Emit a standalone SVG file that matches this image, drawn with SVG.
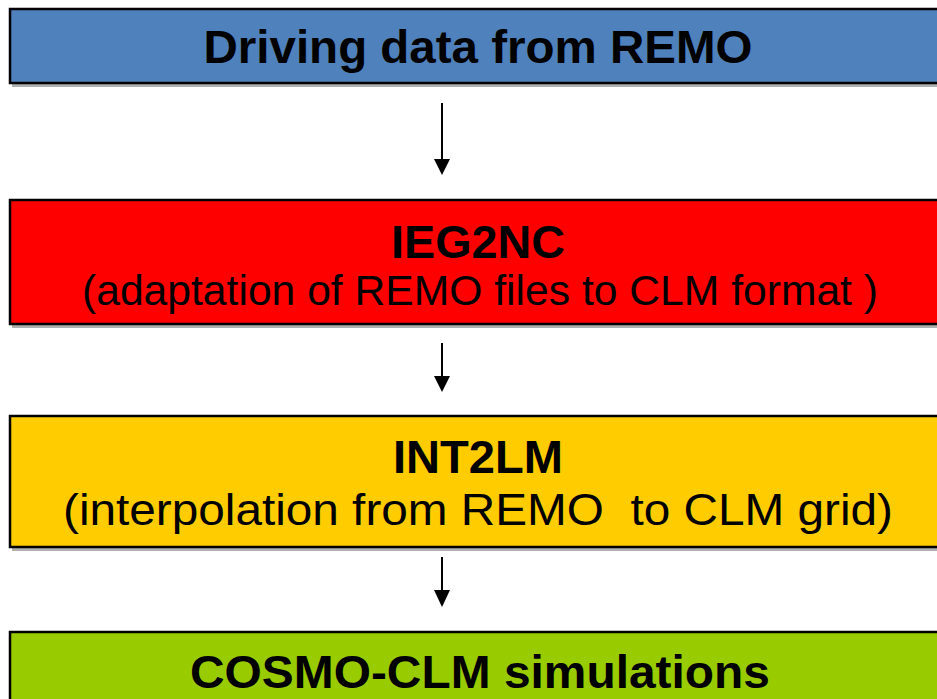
<svg xmlns="http://www.w3.org/2000/svg" width="937" height="699" viewBox="0 0 937 699">
<defs>
<style>
.box{stroke:#000;stroke-width:2.5}
.sh{fill:#b0b0b0}
.t{font-family:"Liberation Sans",Arial,sans-serif;fill:#000;text-anchor:middle}
.b{font-weight:bold}
.con line{stroke:#000;stroke-width:2}
</style>
</defs>
<rect width="937" height="699" fill="#fff"/>
<g id="n1">
<rect class="sh" x="12" y="84" width="930" height="3"/>
<rect class="box" x="10" y="9" width="935" height="74" fill="#4F81BD"/>
<text class="t b" x="478" y="63" font-size="47" textLength="549" lengthAdjust="spacingAndGlyphs">Driving data from REMO</text>
</g>
<g id="n2">
<rect class="sh" x="12" y="325" width="930" height="3"/>
<rect class="box" x="10" y="200" width="935" height="124" fill="#FF0000"/>
<text class="t b" x="478" y="258" font-size="47" textLength="174" lengthAdjust="spacingAndGlyphs">IEG2NC</text>
<text class="t" x="480" y="305" font-size="42" textLength="796" lengthAdjust="spacingAndGlyphs">(adaptation of REMO files to CLM format )</text>
</g>
<g id="n3">
<rect class="sh" x="12" y="548" width="930" height="3"/>
<rect class="box" x="10" y="416" width="935" height="131" fill="#FFCC00"/>
<text class="t b" x="478" y="473" font-size="47" textLength="170" lengthAdjust="spacingAndGlyphs">INT2LM</text>
<text class="t" x="478" y="525" font-size="45" textLength="830" lengthAdjust="spacingAndGlyphs" xml:space="preserve">(interpolation from REMO  to CLM grid)</text>
</g>
<g id="n4">
<rect class="box" x="10" y="632" width="935" height="80" fill="#99CC00"/>
<text class="t b" x="480" y="688" font-size="47" textLength="580" lengthAdjust="spacingAndGlyphs">COSMO-CLM simulations</text>
</g>
<g class="con">
<line x1="442" y1="103" x2="442" y2="160"/>
<path d="M434,159 L450,159 L442,175 z"/>
<line x1="442" y1="343" x2="442" y2="377"/>
<path d="M434,376 L450,376 L442,392 z"/>
<line x1="442" y1="557" x2="442" y2="591"/>
<path d="M434,590 L450,590 L442,607 z"/>
</g>
</svg>
